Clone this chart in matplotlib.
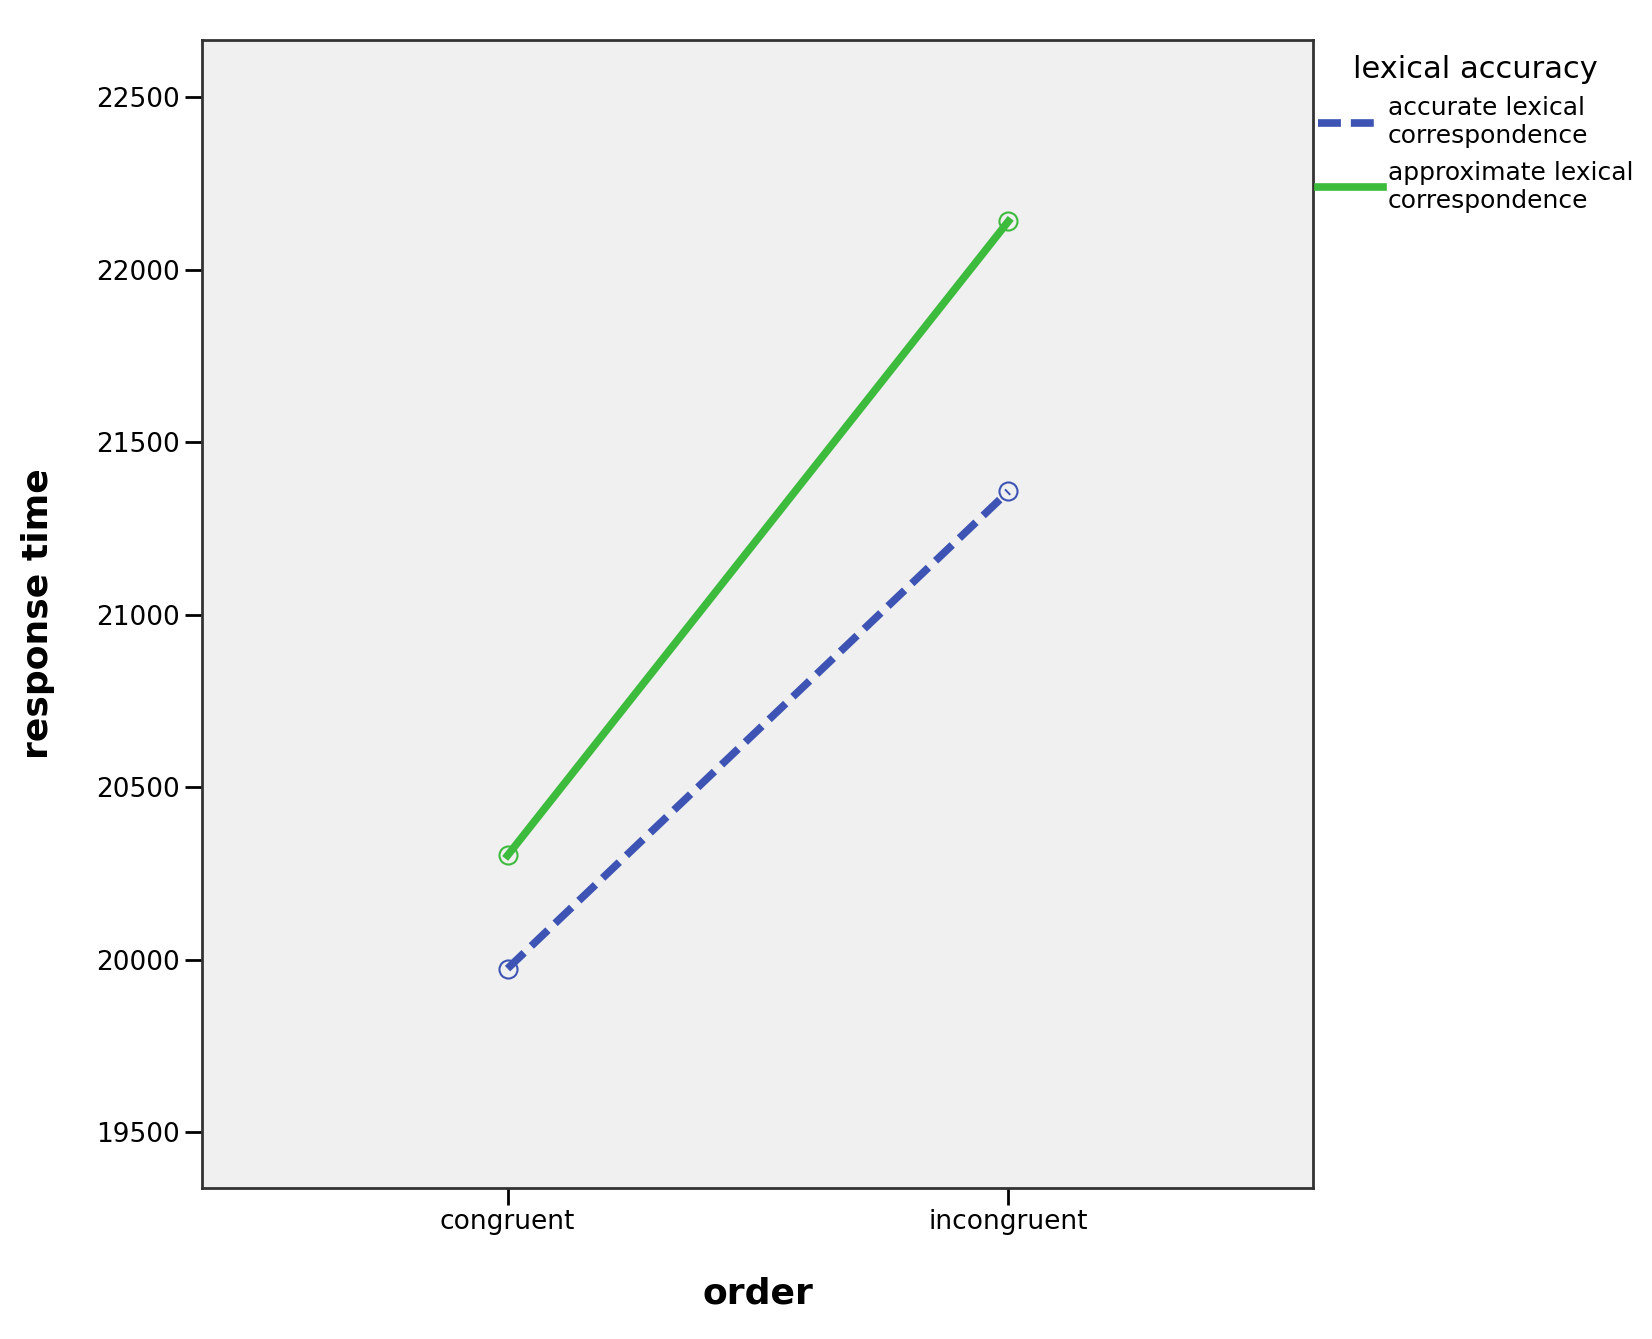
import matplotlib
matplotlib.use("Agg")
import matplotlib.pyplot as plt

categories = ["congruent", "incongruent"]
series_names = ["accurate lexical\ncorrespondence", "approximate lexical\ncorrespondence"]
accurate = [19975, 21358]
approximate = [20303, 22141]
yticks = [19500, 20000, 20500, 21000, 21500, 22000, 22500]

fig = plt.figure(figsize=(16.52, 13.39), dpi=100)
ax = fig.add_axes([0.122, 0.113, 0.673, 0.857])
ax.set_facecolor("#F0F0F0")
x = range(len(categories))
blue = "#3D54B4"; green = "#3DBB3D"
l1, = ax.plot(x, accurate, color=blue, lw=5.5, ls=(0, (3, 1.3)), marker="o", ms=13,
              mfc="none", mec=blue, mew=1.5)
l2, = ax.plot(x, approximate, color=green, lw=5.5, marker="o", ms=13,
              mfc="none", mec=green, mew=1.5)
ax.set_xlim(-0.611, 1.609)
ax.set_ylim(19340, 22666)
ax.set_xticks(list(x)); ax.set_xticklabels(categories, fontsize=19)
ax.set_yticks(yticks); ax.set_yticklabels([str(v) for v in yticks], fontsize=19)
ax.tick_params(length=12, width=2)
for s in ax.spines.values():
    s.set_linewidth(2); s.set_color("#333333")
ax.set_xlabel("order", fontsize=26, fontweight="bold", labelpad=30)
ax.set_ylabel("response time", fontsize=26, fontweight="bold", labelpad=30)
leg = fig.legend([l1, l2], series_names, title="lexical accuracy", loc="upper left",
                 bbox_to_anchor=(0.787, 0.972), frameon=False, fontsize=18,
                 title_fontsize=22, handlelength=2.6, handletextpad=0.2, labelspacing=0.5,
                 borderpad=0.2)
for h in leg.legend_handles:
    h.set_marker("")
fig.savefig("out.png", dpi=100)
